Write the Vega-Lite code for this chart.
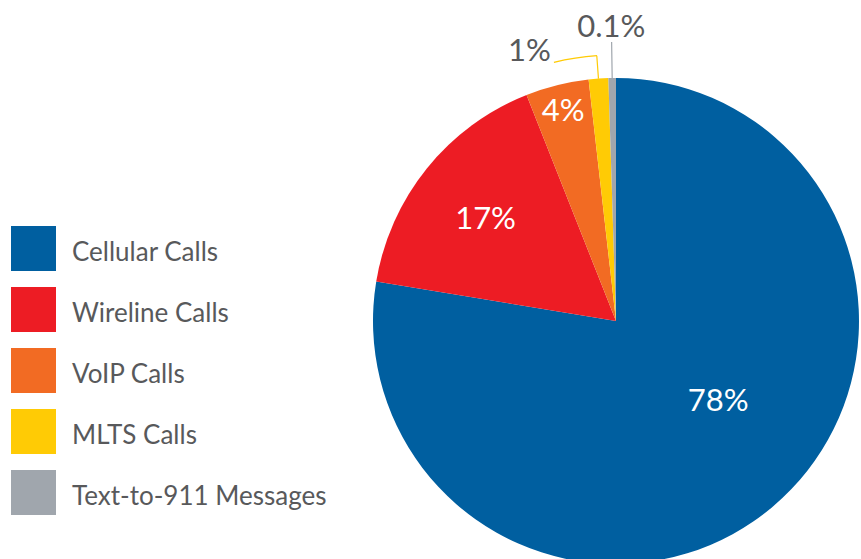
{
  "$schema": "https://vega.github.io/schema/vega-lite/v6.json",
  "width": 486,
  "height": 486,
  "autosize": "none",
  "padding": {"left": 373, "top": 78, "right": 2, "bottom": 0},
  "background": "white",
  "config": {"view": {"stroke": null}, "font": "Lato"},
  "data": {
    "values": [
      {"category": "Cellular Calls", "value": 77.6, "label": "78%", "rank": 1},
      {"category": "Wireline Calls", "value": 16.4, "label": "17%", "rank": 2},
      {"category": "VoIP Calls", "value": 4.2, "label": "4%", "rank": 3},
      {"category": "MLTS Calls", "value": 1.3, "label": "1%", "rank": 4},
      {"category": "Text-to-911 Messages", "value": 0.5, "label": "0.1%", "rank": 5}
    ]
  },
  "layer": [
    {
      "mark": {"type": "arc", "outerRadius": 243},
      "encoding": {
        "theta": {"field": "value", "type": "quantitative", "stack": true},
        "order": {"field": "rank", "type": "quantitative"},
        "color": {
          "field": "category",
          "type": "nominal",
          "sort": null,
          "scale": {
            "domain": ["Cellular Calls", "Wireline Calls", "VoIP Calls", "MLTS Calls", "Text-to-911 Messages"],
            "range": ["#005fa0", "#ed1c24", "#f26b23", "#ffcb05", "#a0a6ad"]
          },
          "legend": {
            "title": null,
            "orient": "none",
            "legendX": -362,
            "legendY": 152.5,
            "padding": 0,
            "symbolType": "M-1,-1.2H1V0.8H-1Z",
            "symbolSize": 2025,
            "symbolStrokeWidth": 0,
            "symbolOpacity": 1,
            "labelFont": "Lato",
            "labelFontSize": 26,
            "labelColor": "#58595b",
            "labelOffset": 16,
            "labelLimit": 400,
            "rowPadding": 15
          }
        }
      }
    },
    {
      "mark": {"type": "arc", "radius": 266, "radius2": 243, "padAngle": 0.5, "filled": false, "stroke": "#ffcb05", "strokeWidth": 1.2},
      "encoding": {
        "theta": {"field": "value", "type": "quantitative", "stack": true},
        "order": {"field": "rank", "type": "quantitative"},
        "detail": {"field": "category"},
        "strokeOpacity": {"condition": {"test": "datum.category === 'MLTS Calls'", "value": 1}, "value": 0}
      }
    },
    {
      "mark": {"type": "arc", "radius": 279, "radius2": 243, "padAngle": 0.5, "filled": false, "stroke": "#a0a6ad", "strokeWidth": 1.2},
      "encoding": {
        "theta": {"field": "value", "type": "quantitative", "stack": true},
        "order": {"field": "rank", "type": "quantitative"},
        "detail": {"field": "category"},
        "strokeOpacity": {"condition": {"test": "datum.category === 'Text-to-911 Messages'", "value": 1}, "value": 0}
      }
    },
    {
      "data": {"values": [{}]},
      "mark": {"type": "arc", "theta": 6.0476, "theta2": 6.2116, "radius": 266.6, "radius2": 265.4, "fill": "#ffcb05"},
      "encoding": {}
    },
    {
      "mark": {"type": "text", "radius": 130, "dx": 18, "dy": -18, "fontSize": 31, "font": "Lato", "fill": "white"},
      "encoding": {
        "theta": {"field": "value", "type": "quantitative", "stack": true},
        "order": {"field": "rank", "type": "quantitative"},
        "detail": {"field": "category"},
        "text": {"condition": {"test": "datum.category === 'Cellular Calls'", "field": "label"}, "value": ""}
      }
    },
    {
      "mark": {"type": "text", "radius": 165, "dx": -2, "dy": 3, "fontSize": 31, "font": "Lato", "fill": "white"},
      "encoding": {
        "theta": {"field": "value", "type": "quantitative", "stack": true},
        "order": {"field": "rank", "type": "quantitative"},
        "detail": {"field": "category"},
        "text": {"condition": {"test": "datum.category === 'Wireline Calls'", "field": "label"}, "value": ""}
      }
    },
    {
      "mark": {"type": "text", "radius": 218, "dy": 2, "fontSize": 31, "font": "Lato", "fill": "white"},
      "encoding": {
        "theta": {"field": "value", "type": "quantitative", "stack": true},
        "order": {"field": "rank", "type": "quantitative"},
        "detail": {"field": "category"},
        "text": {"condition": {"test": "datum.category === 'VoIP Calls'", "field": "label"}, "value": ""}
      }
    },
    {
      "mark": {"type": "text", "radius": 271, "dx": -67, "dy": 1, "fontSize": 31, "font": "Lato", "fill": "#58595b"},
      "encoding": {
        "theta": {"field": "value", "type": "quantitative", "stack": true},
        "order": {"field": "rank", "type": "quantitative"},
        "detail": {"field": "category"},
        "text": {"condition": {"test": "datum.category === 'MLTS Calls'", "field": "label"}, "value": ""}
      }
    },
    {
      "mark": {"type": "text", "radius": 295, "dy": 2, "fontSize": 31, "font": "Lato", "fill": "#58595b"},
      "encoding": {
        "theta": {"field": "value", "type": "quantitative", "stack": true},
        "order": {"field": "rank", "type": "quantitative"},
        "detail": {"field": "category"},
        "text": {"condition": {"test": "datum.category === 'Text-to-911 Messages'", "field": "label"}, "value": ""}
      }
    }
  ]
}
